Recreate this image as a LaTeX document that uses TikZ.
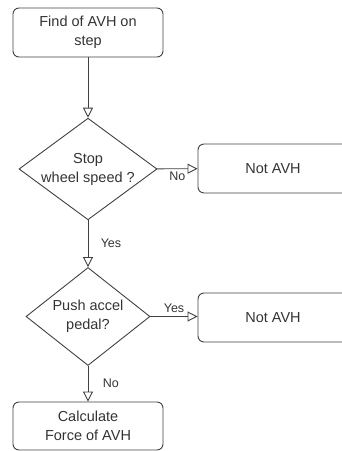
\documentclass[tikz,border=0pt]{standalone}
\usepackage{fontspec}
\setmainfont{Liberation Sans}
\usepackage{tikz}
\usetikzlibrary{positioning,shapes.geometric,arrows.meta}

\begin{document}
\begin{tikzpicture}[x=1pt,y=-1pt,line width=0.9pt,
    box/.style={draw=black!75,rounded corners=6pt,minimum width=150pt,minimum height=49pt,align=center,text=black!80,font=\fontsize{14.5}{19}\selectfont},
    decide/.style={draw=black!75,diamond,inner sep=-6pt,align=center,text=black!80,font=\fontsize{14.5}{19}\selectfont},
    flow/.style={draw=black!75,-{Triangle[open,length=10pt,width=10pt]}},
    tag/.style={text=black!80,font=\fontsize{12.5}{14}\selectfont}]
    % Frame
    \useasboundingbox (0,0) rectangle (341,451);

    % Steps
    \node[box] (find) at (88,32.5) {Find of AVH on\\step};
    \node[decide,minimum width=138pt,minimum height=99pt] (stop) at (88,169) {Stop\\wheel speed ?};
    \node[box] (notA) at (273,168.5) {Not AVH};
    \node[decide,minimum width=124pt,minimum height=98pt] (push) at (88,316.5) {Push accel\\pedal?};
    \node[box] (notB) at (273,317.5) {Not AVH};
    \node[box,minimum height=48pt] (calc) at (88,426) {Calculate\\Force of AVH};

    % Connectors
    \draw[flow] (find) -- (stop);
    \draw[flow] (stop) -- node[tag,midway,below,yshift=1pt] {No} (notA);
    \draw[flow] (stop) -- node[tag,midway,right,xshift=9pt] {Yes} (push);
    \draw[flow] (push.east) -- node[tag,midway,above] {Yes} (push.east -| notB.west);
    \draw[flow] (push) -- node[tag,midway,right,xshift=11pt] {No} (calc);
\end{tikzpicture}
\end{document}
